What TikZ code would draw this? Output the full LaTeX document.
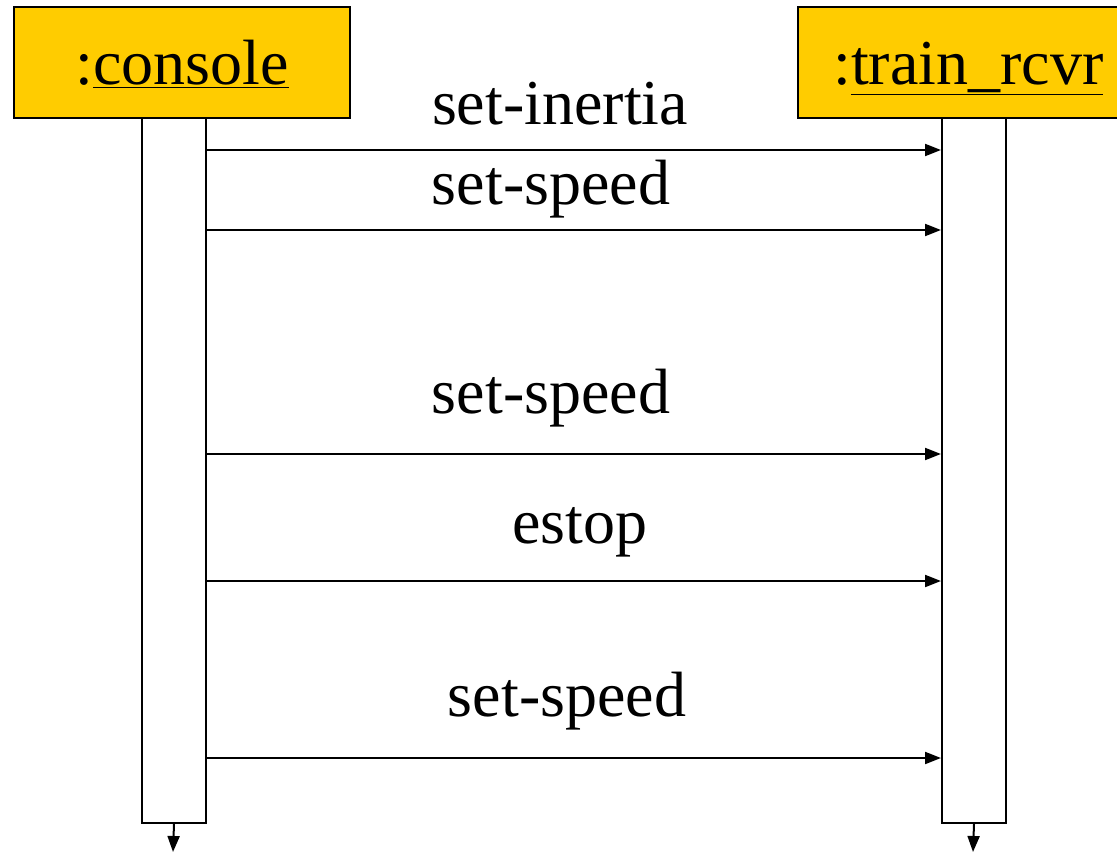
\documentclass[tikz,border=0pt]{standalone}
\usepackage{fontspec}
\setmainfont{Liberation Serif}
\usetikzlibrary{arrows.meta}
\definecolor{hdr}{HTML}{FFCC00}
\tikzset{
  hdrbox/.style={draw=black, line width=2pt, fill=hdr, minimum width=336pt, minimum height=111pt, anchor=north west, inner sep=0pt},
  actbox/.style={draw=black, line width=2pt, fill=white, minimum width=64pt, minimum height=705pt, anchor=north west, inner sep=0pt},
  msg/.style={line width=2pt, -{Triangle[length=16pt,width=12pt]}},
  endarr/.style={line width=2pt, -{Triangle[length=16pt,width=12pt]}},
  lbl/.style={anchor=base, inner sep=0pt, font=\fontsize{64}{76}\selectfont},
}
\begin{document}
\begin{tikzpicture}[x=1pt,y=-1pt]
\useasboundingbox (0,0) rectangle (1117,853);
\clip (0,0) rectangle (1117,853);
% activation boxes
\node[actbox] (actA) at (141,117) {};
\node[actbox] (actB) at (941,117) {};
% header boxes
\node[hdrbox] (objA) at (13,6) {};
\node[hdrbox] (objB) at (797,6) {};
\node[lbl] (tA) at (182,85) {:\underline{console}};
\node[lbl, anchor=base west] (tB) at (833,85) {:\underline{train\_rcvr}};
% message levels
\coordinate (m1) at (0,150);
\coordinate (m2) at (0,230);
\coordinate (m3) at (0,454);
\coordinate (m4) at (0,581);
\coordinate (m5) at (0,758);
\draw[msg] (actA.east |- m1) -- (actB.west |- m1);
\draw[msg] (actA.east |- m2) -- (actB.west |- m2);
\draw[msg] (actA.east |- m3) -- (actB.west |- m3);
\draw[msg] (actA.east |- m4) -- (actB.west |- m4);
\draw[msg] (actA.east |- m5) -- (actB.west |- m5);
% labels
\node[lbl] (l1) at (560,125) {set-inertia};
\node[lbl] (l2) at (551,205) {set-speed};
\node[lbl] (l3) at (551,413) {set-speed};
\node[lbl] (l4) at (580,543) {estop};
\node[lbl] (l5) at (567,716) {set-speed};
% lifeline continuations
\coordinate (eA) at (173,852);
\coordinate (eB) at (973,852);
\draw[endarr] (actA.south) -- (eA);
\draw[endarr] (actB.south) -- (eB);
\end{tikzpicture}
\end{document}
